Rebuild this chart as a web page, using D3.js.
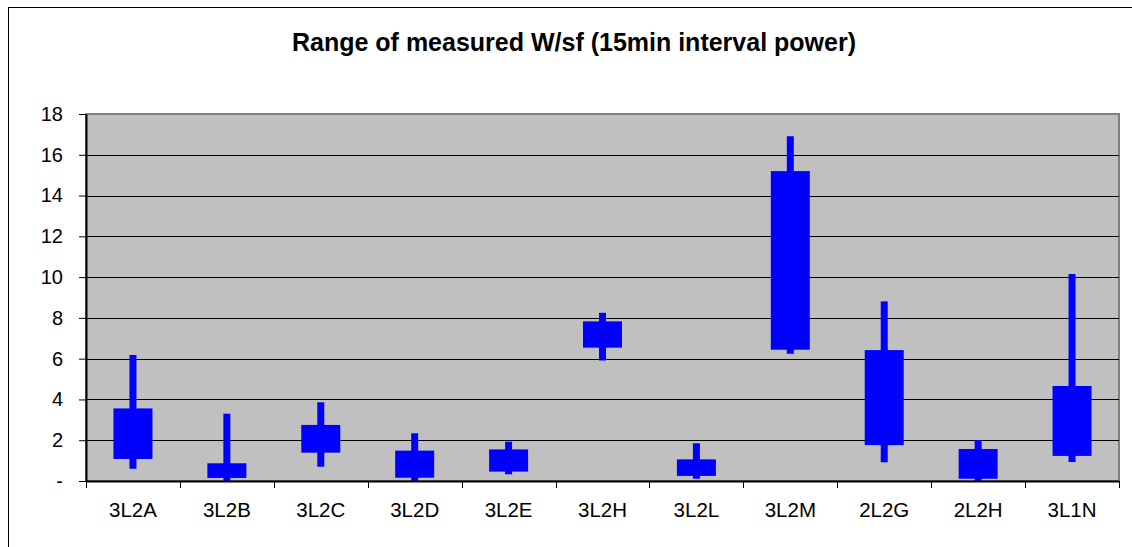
<!DOCTYPE html>
<html>
<head>
<meta charset="utf-8">
<script src="https://cdn.jsdelivr.net/npm/d3@7"></script>
<style>
    body { margin: 0; background: #fff; }
    svg { display: block; font-family: 'Liberation Sans', Arial, sans-serif; }
    .y-axis .tick text { font-size: 20px; fill: #000; }
    .x-axis .tick text { font-size: 20.5px; fill: #000; }
</style>
</head>
<body>
<div id="content"></div>
<script>
const CATEGORIES = ['3L2A', '3L2B', '3L2C', '3L2D', '3L2E', '3L2H', '3L2L', '3L2M', '2L2G', '2L2H', '3L1N'];
const HIGH  = [6.18, 3.30, 3.86, 2.34, 1.93, 8.25, 1.85, 16.91, 8.81, 2.01, 10.15];
const OPEN  = [3.56, 0.87, 2.75, 1.49, 1.55, 7.83, 1.06, 15.20, 6.42, 1.57, 4.66];
const CLOSE = [1.08, 0.15, 1.39, 0.16, 0.46, 6.54, 0.25, 6.44, 1.76, 0.11, 1.23];
const LOW   = [0.60, 0.00, 0.70, 0.00, 0.33, 5.91, 0.11, 6.24, 0.92, 0.00, 0.93];
const Y_TICKS = [0, 2, 4, 6, 8, 10, 12, 14, 16, 18];
const TITLE = 'Range of measured W/sf (15min interval power)';

var totalWidth = 1132;
var totalHeight = 547;

var plotLeft = 86;
var plotRight = 1119;
var plotTop = 114;
var plotBottom = 481;

var svg = d3.select('#content')
.append('svg')
.attr('width', totalWidth)
.attr('height', totalHeight);

// chart frame, runs off the right and bottom edges like the source
svg.append('rect')
.attr('x', 8.5)
.attr('y', 7.5)
.attr('width', 1140)
.attr('height', 560)
.attr('fill', '#fff')
.attr('stroke', '#000')
.attr('stroke-width', 1);

svg.append('text')
.attr('x', 574)
.attr('y', 51)
.attr('text-anchor', 'middle')
.attr('font-size', '25px')
.attr('font-weight', 'bold')
.text(TITLE);

var xScale = d3.scaleBand()
.domain(CATEGORIES)
.range([plotLeft, plotRight]);

var yScale = d3.scaleLinear()
.domain([0, 18])
.range([plotBottom, plotTop]);

// plot area
svg.append('rect')
.attr('x', plotLeft)
.attr('y', plotTop)
.attr('width', plotRight - plotLeft)
.attr('height', plotBottom - plotTop)
.attr('fill', '#c0c0c0')
.attr('stroke', '#808080')
.attr('stroke-width', 2);

svg.selectAll('.grid')
.data(Y_TICKS.slice(1, -1))
.enter()
.append('line')
.attr('class', 'grid')
.attr('x1', plotLeft)
.attr('x2', plotRight)
.attr('y1', function (d) {return Math.round(yScale(d)) + 0.5})
.attr('y2', function (d) {return Math.round(yScale(d)) + 0.5})
.attr('stroke', '#000')
.attr('stroke-width', 1);

var data = CATEGORIES.map(function (c, i) {
    return {key: c, high: HIGH[i], low: LOW[i], open: OPEN[i], close: CLOSE[i]};
});

var boxWidth = 39;
var whiskerWidth = 7;

svg.selectAll('.whisker')
.data(data)
.enter()
.append('rect')
.attr('class', 'whisker')
.attr('x', function (d) {return xScale(d.key) + xScale.bandwidth() / 2 - whiskerWidth / 2})
.attr('y', function (d) {return yScale(d.high)})
.attr('width', whiskerWidth)
.attr('height', function (d) {return yScale(d.low) - yScale(d.high)})
.attr('fill', '#0000ff');

svg.selectAll('.box')
.data(data)
.enter()
.append('rect')
.attr('class', 'box')
.attr('x', function (d) {return xScale(d.key) + xScale.bandwidth() / 2 - boxWidth / 2})
.attr('y', function (d) {return yScale(Math.max(d.open, d.close))})
.attr('width', boxWidth)
.attr('height', function (d) {return Math.abs(yScale(d.open) - yScale(d.close))})
.attr('fill', '#0000ff');

var yAxis = d3.axisLeft(yScale)
.tickValues(Y_TICKS)
.tickFormat(function (d) {return d === 0 ? '-' : d})
.tickSizeInner(7)
.tickSizeOuter(0)
.tickPadding(16);

svg.append('g')
.attr('class', 'y-axis')
.attr('transform', 'translate(' + plotLeft + ', 0)')
.call(yAxis);

var xAxis = d3.axisBottom(xScale)
.tickSize(0)
.tickPadding(21);

var xg = svg.append('g')
.attr('class', 'x-axis')
.attr('transform', 'translate(0, ' + plotBottom + ')')
.call(xAxis);

xg.selectAll('.sep')
.data(d3.range(CATEGORIES.length + 1))
.enter()
.append('line')
.attr('class', 'sep')
.attr('x1', function (i) {return Math.round(plotLeft + i * xScale.bandwidth()) + 0.5})
.attr('x2', function (i) {return Math.round(plotLeft + i * xScale.bandwidth()) + 0.5})
.attr('y1', 0)
.attr('y2', 7)
.attr('stroke', '#000');

svg.selectAll('.domain').attr('stroke', '#000').attr('stroke-width', 2);
svg.selectAll('.tick line').attr('stroke', '#000');
</script>
</body>
</html>
